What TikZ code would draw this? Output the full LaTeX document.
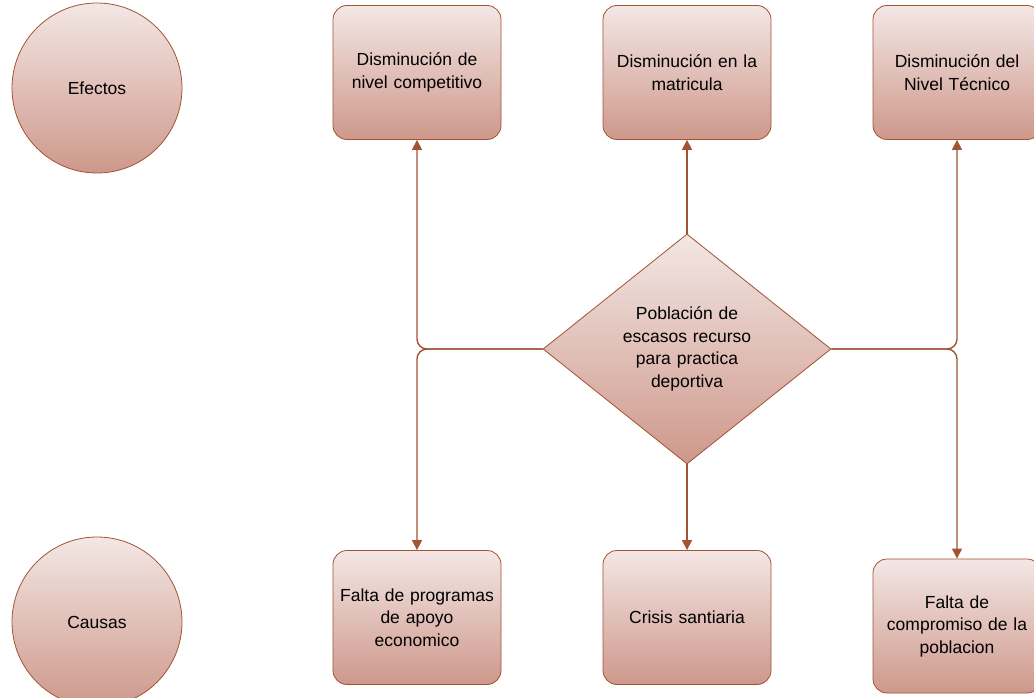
\documentclass[tikz,border=0pt]{standalone}
\usepackage{fontspec}
\setmainfont{Liberation Sans}
\usetikzlibrary{shapes.geometric,arrows.meta}
\definecolor{edge}{RGB}{163,82,50}
\definecolor{topc}{RGB}{243,231,229}
\definecolor{botc}{RGB}{206,152,139}
\tikzset{
  shaded/.style={draw=edge, line width=0.8pt, top color=topc, bottom color=botc, font=\fontsize{17.5}{22.5}\selectfont, align=center, inner sep=0pt},
  boxnode/.style={shaded, rectangle, rounded corners=14pt, minimum width=168pt, minimum height=134pt, text width=164pt},
  circnode/.style={shaded, circle, minimum size=170pt},
  decision/.style={shaded, diamond, minimum width=288pt, minimum height=230pt, text width=140pt},
  conn/.style={draw=edge, line width=1.4pt, rounded corners=10pt, -{Triangle[length=10pt,width=10pt]}}
}
\begin{document}
\begin{tikzpicture}[x=1pt,y=-1pt]
\useasboundingbox (0,0) rectangle (1034,698);
\node[circnode] (efectos) at (97,88) {Efectos};
\node[circnode] (causas) at (97,622) {Causas};
\node[boxnode] (b1) at (417,72.5) {Disminución de\\nivel competitivo};
\node[boxnode] (b2) at (687,72.5) {Disminución en la\\matricula};
\node[boxnode] (b3) at (957,72.5) {Disminución del\\Nivel Técnico};
\node[boxnode] (b4) at (417,617.5) {Falta de programas\\de apoyo\\economico};
\node[boxnode] (b5) at (687,617.5) {Crisis santiaria};
\node[boxnode] (b6) at (957,626) {Falta de\\compromiso de la\\poblacion};
\node[decision] (d) at (687,349) {Población de\\escasos recurso\\para practica\\deportiva};
\draw[conn] (d.west) -| (b1.south);
\draw[conn] (d.west) -| (b4.north);
\draw[conn] (d.east) -| (b3.south);
\draw[conn] (d.east) -| (b6.north);
\draw[conn] (d.north) -- (b2.south);
\draw[conn] (d.south) -- (b5.north);
\end{tikzpicture}
\end{document}
